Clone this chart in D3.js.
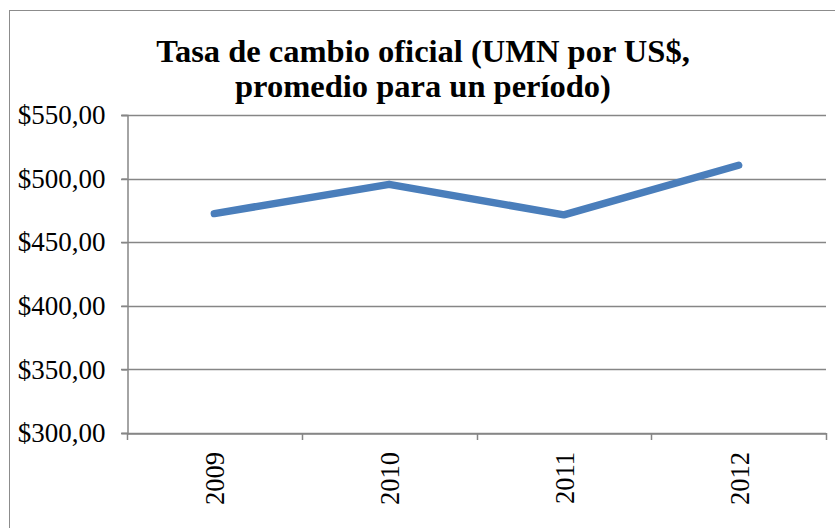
<!DOCTYPE html>
<html>
<head>
<meta charset="utf-8">
<script src="https://cdn.jsdelivr.net/npm/d3@7"></script>
<style>
  body { margin: 0; background: #fff; }
  text { font-family: "Liberation Serif", "DejaVu Serif", serif; }
</style>
</head>
<body>
<script>
// Data
const years = ["2009", "2010", "2011", "2012"];
const rates = [472.5, 495.5, 471.5, 510.5];
const yTicks = [300, 350, 400, 450, 500, 550];
const titleLines = ["Tasa de cambio oficial (UMN por US$,", "promedio para un período)"];

const width = 835, height = 528;
const plot = { left: 127, right: 826, top: 115, bottom: 433 };

const svg = d3.select("body").append("svg")
  .attr("width", width)
  .attr("height", height);

// chart frame (runs off the bottom/right edges)
svg.append("rect")
  .attr("x", 9.5).attr("y", 10.5)
  .attr("width", 840).attr("height", 540)
  .attr("fill", "#fff")
  .attr("stroke", "#8c8c8c")
  .attr("stroke-width", 1);

// title
svg.append("g").selectAll("text")
  .data(titleLines)
  .join("text")
  .attr("x", 423)
  .attr("y", (d, i) => 62 + i * 35)
  .attr("text-anchor", "middle")
  .attr("font-size", "32.5px")
  .attr("font-weight", "bold")
  .text(d => d);

const x = d3.scaleBand().domain(years).range([plot.left, plot.right]);
const y = d3.scaleLinear().domain([300, 550]).range([plot.bottom, plot.top]);

// gridlines
svg.append("g").selectAll("line")
  .data(yTicks)
  .join("line")
  .attr("x1", plot.left - 6).attr("x2", plot.right)
  .attr("y1", d => Math.round(y(d)) + 0.5).attr("y2", d => Math.round(y(d)) + 0.5)
  .attr("stroke", "#868686")
  .attr("stroke-width", 1.5);

// y axis
const yAxis = svg.append("g")
  .attr("transform", `translate(${plot.left + 0.5},0)`)
  .call(d3.axisLeft(y).tickValues(yTicks).tickSize(6).tickPadding(16)
    .tickFormat(d => "$" + d3.format(".2f")(d).replace(".", ",")));
yAxis.select(".domain").attr("stroke", "#868686").attr("stroke-width", 1.5);
yAxis.selectAll(".tick line").attr("stroke", "#868686").attr("stroke-width", 1.5);
yAxis.selectAll(".tick text").attr("font-size", "27px").attr("fill", "#000")
  .attr("font-family", "'Liberation Serif', serif");

// x axis
const xAxis = svg.append("g")
  .attr("transform", `translate(0,${plot.bottom + 0.5})`)
  .call(d3.axisBottom(x).tickSize(0).tickFormat(""));
xAxis.select(".domain").attr("stroke", "#868686").attr("stroke-width", 1.5);

// boundary ticks between categories
svg.append("g").selectAll("line")
  .data(d3.range(years.length + 1))
  .join("line")
  .attr("x1", i => Math.round(plot.left + i * x.step()) + 0.5)
  .attr("x2", i => Math.round(plot.left + i * x.step()) + 0.5)
  .attr("y1", plot.bottom).attr("y2", plot.bottom + 7)
  .attr("stroke", "#868686")
  .attr("stroke-width", 1.5);

// rotated category labels
svg.append("g").selectAll("text")
  .data(years)
  .join("text")
  .attr("transform", d => `translate(${x(d) + x.bandwidth() / 2 + 10},452) rotate(-90)`)
  .attr("text-anchor", "end")
  .attr("font-size", "26.5px")
  .text(d => d);

// line
const line = d3.line()
  .x((d, i) => x(years[i]) + x.bandwidth() / 2)
  .y(d => y(d));

svg.append("path")
  .datum(rates)
  .attr("d", line)
  .attr("fill", "none")
  .attr("stroke", "#4a7ebb")
  .attr("stroke-width", 7.5)
  .attr("stroke-linecap", "round")
  .attr("stroke-linejoin", "round");
</script>
</body>
</html>
